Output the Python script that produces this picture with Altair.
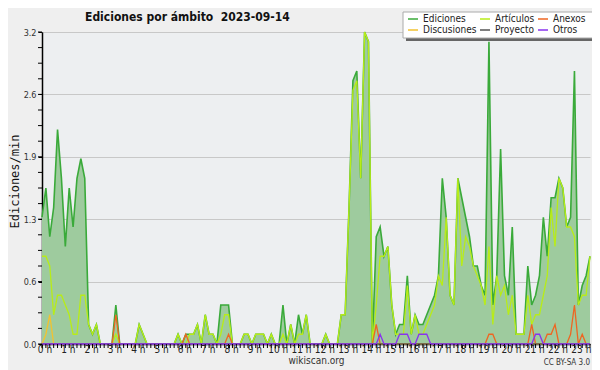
import altair as alt
import pandas as pd

# 10-minute buckets, 0:00 .. 23:30 (hours)
hours = [i / 6 for i in range(142)]

ediciones = [
    1.3, 1.6, 1.1, 1.4, 2.2, 1.7, 1.0, 1.6, 1.2, 1.7, 1.9, 1.7,
    0.2, 0.1, 0.2, 0, 0, 0, 0, 0.4, 0, 0, 0, 0,
    0, 0.2, 0.1, 0, 0, 0, 0, 0, 0, 0, 0, 0.1,
    0, 0.1, 0.1, 0.1, 0.2, 0, 0.3, 0.1, 0.1, 0, 0.4, 0.4,
    0.4, 0, 0, 0, 0.1, 0.1, 0, 0.1, 0.1, 0.1, 0, 0.1,
    0, 0, 0.4, 0, 0.2, 0, 0.3, 0.1, 0.3, 0, 0, 0,
    0, 0.1, 0, 0, 0, 0.3, 0.3, 1.4, 2.7, 2.8, 1.7, 3.2,
    3.1, 0, 1.1, 1.2, 0.9, 1.0, 0.4, 0.1, 0.2, 0.2, 0.7, 0.1,
    0.3, 0.2, 0.2, 0.3, 0.4, 0.5, 0.7, 1.7, 1.3, 0.5, 0.4, 1.7,
    1.5, 1.3, 1.1, 0.8, 0.8, 0.6, 0.5, 3.1, 0.4, 0.7, 2.0, 0.7,
    0.5, 1.2, 0.1, 0.1, 0.1, 0.8, 0.4, 0.5, 0.7, 1.3, 0.9, 1.5,
    1.5, 1.7, 1.6, 1.2, 1.3, 2.8, 0.4, 0.6, 0.7, 0.9,
]

articulos = [
    0.9, 0.9, 0.8, 0.3, 0.5, 0.5, 0.4, 0.3, 0.1, 0.1, 0.5, 0.5,
    0.2, 0.1, 0.2, 0, 0, 0, 0, 0.1, 0, 0, 0, 0,
    0, 0.2, 0.1, 0, 0, 0, 0, 0, 0, 0, 0, 0.1,
    0, 0, 0.1, 0.1, 0.2, 0, 0.3, 0.1, 0.1, 0, 0.1, 0.3,
    0.3, 0, 0, 0, 0.1, 0.1, 0, 0.1, 0.1, 0.1, 0, 0.1,
    0, 0, 0.1, 0, 0.2, 0, 0.1, 0.1, 0.3, 0, 0, 0,
    0, 0.1, 0, 0, 0, 0.3, 0.3, 1.4, 2.6, 2.7, 1.7, 3.2,
    3.1, 0, 0.4, 0.9, 0.9, 1.0, 0.4, 0.1, 0.1, 0.1, 0.6, 0.1,
    0.3, 0.1, 0.1, 0.2, 0.3, 0.4, 0.7, 0.6, 1.3, 0.5, 0.4, 1.7,
    0.8, 1.1, 1.0, 0.8, 0.7, 0.6, 0.4, 1.0, 0.2, 0.7, 0.5, 0.6,
    0.3, 0.5, 0.1, 0.1, 0.1, 0.5, 0.2, 0.3, 0.3, 0.5, 0.7, 1.4,
    1.0, 1.7, 1.6, 1.2, 1.2, 1.1, 0.4, 0.5, 0.5, 0.9,
]

anexos = [
    0, 0, 0, 0, 0, 0, 0, 0, 0, 0, 0, 0,
    0, 0, 0, 0, 0, 0, 0, 0.3, 0, 0, 0, 0,
    0, 0, 0, 0, 0, 0, 0, 0, 0, 0, 0, 0,
    0, 0.1, 0, 0, 0, 0, 0, 0, 0, 0, 0, 0,
    0.1, 0, 0, 0, 0, 0, 0, 0, 0, 0, 0, 0,
    0, 0, 0, 0, 0, 0, 0, 0, 0, 0, 0, 0,
    0, 0, 0, 0, 0, 0, 0, 0, 0, 0, 0, 0,
    0, 0, 0.2, 0, 0, 0, 0, 0, 0, 0, 0, 0,
    0, 0, 0, 0, 0, 0, 0, 0, 0, 0, 0, 0,
    0, 0, 0, 0, 0, 0, 0, 0.1, 0.1, 0, 0, 0,
    0, 0, 0, 0, 0, 0, 0.2, 0, 0, 0, 0.1, 0.1,
    0.2, 0, 0, 0, 0.1, 0.4, 0, 0.1, 0, 0,
]

discusiones = [
    0, 0.1, 0.3, 0, 0, 0, 0, 0, 0, 0, 0, 0,
    0, 0, 0, 0, 0, 0, 0, 0, 0, 0, 0, 0,
    0, 0, 0, 0, 0, 0, 0, 0, 0, 0, 0, 0,
    0, 0, 0, 0, 0, 0, 0, 0, 0, 0, 0, 0,
    0, 0, 0, 0, 0, 0, 0, 0, 0, 0, 0, 0,
    0, 0, 0, 0, 0, 0, 0, 0, 0, 0, 0, 0,
    0, 0, 0, 0, 0, 0, 0, 0, 0, 0, 0, 0,
    0, 0, 0, 0, 0, 0, 0, 0, 0, 0, 0, 0,
    0, 0, 0, 0, 0, 0, 0, 0, 0, 0, 0, 0,
    0, 0, 0, 0, 0, 0, 0, 0, 0, 0, 0, 0,
    0, 0, 0, 0, 0, 0, 0, 0, 0, 0, 0, 0,
    0, 0, 0, 0, 0, 0, 0, 0, 0, 0,
]

proyecto = [
    0, 0, 0, 0, 0, 0, 0, 0, 0, 0, 0, 0,
    0, 0, 0, 0, 0, 0, 0, 0, 0, 0, 0, 0,
    0, 0, 0, 0, 0, 0, 0, 0, 0, 0, 0, 0,
    0, 0, 0, 0, 0, 0, 0, 0, 0, 0, 0, 0,
    0, 0, 0, 0, 0, 0, 0, 0, 0, 0, 0, 0,
    0, 0, 0, 0, 0, 0, 0, 0, 0, 0, 0, 0,
    0, 0, 0, 0, 0, 0, 0, 0, 0, 0, 0, 0,
    0, 0, 0, 0, 0, 0, 0, 0, 0, 0, 0, 0,
    0, 0, 0, 0, 0, 0, 0, 0, 0, 0, 0, 0,
    0, 0, 0, 0, 0, 0, 0, 0, 0, 0, 0, 0,
    0, 0, 0, 0, 0, 0, 0, 0, 0, 0, 0, 0,
    0, 0, 0, 0, 0, 0, 0, 0, 0, 0,
]

otros = [
    0, 0, 0, 0, 0, 0, 0, 0, 0, 0, 0, 0,
    0, 0, 0, 0, 0, 0, 0, 0, 0, 0, 0, 0,
    0, 0, 0, 0, 0, 0, 0, 0, 0, 0, 0, 0,
    0, 0, 0, 0, 0, 0, 0, 0, 0, 0, 0, 0,
    0, 0, 0, 0, 0, 0, 0, 0, 0, 0, 0, 0,
    0, 0, 0, 0, 0, 0, 0, 0, 0, 0, 0, 0,
    0, 0, 0, 0, 0, 0, 0, 0, 0, 0, 0, 0,
    0, 0, 0, 0.1, 0, 0, 0, 0, 0.1, 0.1, 0.1, 0,
    0, 0.1, 0.1, 0.1, 0, 0, 0, 0, 0, 0, 0, 0,
    0, 0, 0, 0, 0, 0, 0, 0, 0, 0, 0, 0,
    0, 0, 0, 0, 0, 0, 0, 0.1, 0.1, 0, 0, 0,
    0, 0, 0, 0, 0, 0, 0, 0, 0, 0,
]

series_names = ["Ediciones", "Artículos", "Anexos", "Discusiones", "Proyecto", "Otros"]
series_colors = ["#3aaa3a", "#b8ec18", "#ee6622", "#f2c230", "#555555", "#8833ee"]
series_values = [ediciones, articulos, anexos, discusiones, proyecto, otros]
# legend fills column by column: Ediciones/Discusiones, Artículos/Proyecto, Anexos/Otros
legend_order = ["Ediciones", "Discusiones", "Artículos", "Proyecto", "Anexos", "Otros"]
legend_colors = [series_colors[series_names.index(n)] for n in legend_order]

hour_ticks = list(range(24))
hour_labels = ["0 h", "1 h", "2 h", "3 h", "4 h", "5 h", "6 h", "7 h", "8 h", "9 h",
               "10 h", "11 h", "12 h", "13 h", "14 h", "15 h", "16 h", "17 h",
               "18 h", "19 h", "20 h", "21 h", "22 h", "23 h"]
y_major = [0, 0.64, 1.28, 1.92, 2.56, 3.2]
y_minor = [round(k * 0.16, 2) for k in range(21)]
x_domain = [0, 23.5]
y_domain = [0, 3.2]

wide = pd.DataFrame({"t": hours})
for n, v in zip(series_names, series_values):
    wide[n] = v
long_df = pd.concat(
    [pd.DataFrame({"t": hours, "serie": n, "v": v}) for n, v in zip(series_names, series_values)],
    ignore_index=True,
)
yminor_df = pd.DataFrame({"yv": y_minor})
hour_df = pd.DataFrame({"h": hour_ticks, "lab": hour_labels})

FONT = "DejaVu Sans Condensed, DejaVu Sans"

x_scale = alt.Scale(domain=x_domain, nice=False, zero=False)
y_scale = alt.Scale(domain=y_domain, nice=False)

x_enc = alt.X(
    "t:Q",
    scale=x_scale,
    axis=alt.Axis(
        values=hour_ticks, labels=False,
        tickSize=4, tickColor="#000", domainColor="#000", domainWidth=1.5,
        grid=False, title="wikiscan.org", titleFont=FONT, titleFontSize=10,
        titleFontWeight="normal", titleColor="#333",
        titleY=19, titleBaseline="alphabetic",
    ),
)

y_axis = alt.Axis(
    values=y_major, format=".1f",
    labelOverlap=False, labelFlush=False, labelBound=False,
    tickSize=4, tickColor="#000", domainColor="#000", domainWidth=1.5,
    labelFont=FONT, labelFontSize=9, labelColor="#333", labelPadding=2,
    grid=True, gridColor="#c8c8c8", gridWidth=1,
    title="Ediciones/min", titleFont="DejaVu Sans Mono", titleFontSize=12,
    titleFontWeight="normal", titleColor="#111", titleX=-21, titleY=149,
    titleAngle=270, titleAlign="center", titleBaseline="bottom",
)

color_scale = alt.Scale(domain=legend_order, range=legend_colors)
legend = alt.Legend(
    orient="none", legendX=365, legendY=-19, columns=3, title=None,
    symbolType="stroke", symbolSize=100, symbolStrokeWidth=1.5,
    labelFont=FONT, labelFontSize=10, labelColor="#222", labelOffset=4,
    columnPadding=0, rowPadding=0, padding=0, labelLimit=120,
)

# legend box and its shadow (decoration)
box_df = pd.DataFrame({"k": [0]})
shadow = alt.Chart(box_df).mark_rect(color="#666666").encode(
    x=alt.value(364), x2=alt.value(555), y=alt.value(-17), y2=alt.value(9)
)
box = alt.Chart(box_df).mark_rect(fill="#ffffff", stroke="#aaaaaa", strokeWidth=1).encode(
    x=alt.value(361), x2=alt.value(552), y=alt.value(-20), y2=alt.value(6)
)

area = alt.Chart(wide).mark_area(color="#9ecb9e", opacity=1).encode(
    x=x_enc, y=alt.Y("Ediciones:Q", scale=y_scale, axis=y_axis)
)

widths = [1.6, 1.3, 1.3, 1.3, 1.3, 1.3]
lines = []
for n, w in zip(series_names, widths):
    lines.append(
        alt.Chart(long_df).transform_filter(alt.datum.serie == n).mark_line(strokeWidth=w).encode(
            x=alt.X("t:Q"),
            y=alt.Y("v:Q"),
            color=alt.Color("serie:N", scale=color_scale, legend=legend),
        )
    )

# minor ticks: every 10 minutes on x, every 0.16 on y
xminor = alt.Chart(wide).mark_rule(color="#000", strokeWidth=1).encode(
    x="t:Q", y=alt.value(312), y2=alt.value(316)
)
yminor = alt.Chart(yminor_df).mark_rule(color="#000", strokeWidth=1).encode(
    y="yv:Q", x=alt.value(-4), x2=alt.value(0)
)

# hour labels under the axis
xlabels = alt.Chart(hour_df).mark_text(
    align="center", baseline="alphabetic", fontSize=10, font=FONT, color="#222", dx=3
).encode(x="h:Q", y=alt.value(321), text="lab:N")

title = alt.Chart(box_df).mark_text(
    text="Ediciones por ámbito\u00a0\u00a02023-09-14", align="left", baseline="alphabetic",
    fontSize=12, font=FONT, fontWeight="bold", color="#111",
).encode(x=alt.value(43), y=alt.value(-11))

cc = alt.Chart(box_df).mark_text(
    text="CC BY-SA 3.0", align="right", baseline="alphabetic", fontSize=8, font=FONT, color="#333"
).encode(x=alt.value(548), y=alt.value(333))

chart = alt.layer(area, *lines, xminor, yminor, xlabels, shadow, box, title, cc).properties(
    width=548, height=312,
    padding={"left": 34, "top": 24, "right": 2, "bottom": 26},
    autosize=alt.AutoSizeParams(type="none"),
    background="#efefef",
).configure_view(fill="#edeff1", stroke=None)

chart.save("out.html", embed_options={"renderer": "svg", "actions": False})
